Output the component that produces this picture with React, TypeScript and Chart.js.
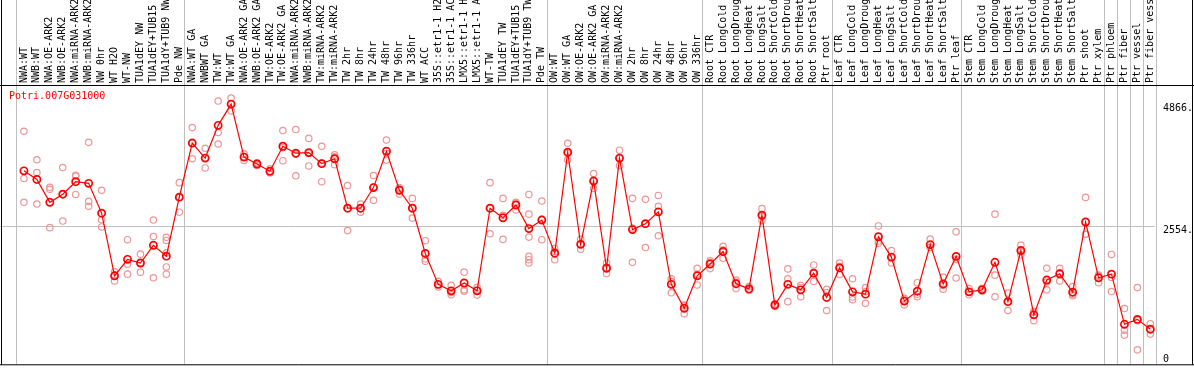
import React, { useEffect, useRef } from "react";
import { Chart, registerables } from "chart.js";

Chart.register(...registerables);

const title = "Potri.007G031000";

const categories: string[] = [
  "NWA:WT", "NWB:WT", "NWA:OE-ARK2", "NWB:OE-ARK2", "NWA:miRNA-ARK2", "NWB:miRNA-ARK2", "NW 0hr", "WT H2O", "WT-NW", "TUA1dEY NW", "TUA1dEY+TUB15 NW", "TUA1dY+TUB9 NW", "Pde NW",
  "NWA:WT GA", "NWBWT GA", "TW:WT", "TW:WT GA", "NWA:OE-ARK2 GA", "NWB:OE-ARK2 GA", "TW:OE-ARK2", "TW:OE-ARK2 GA", "NWA:miRNA-ARK2 GA", "NWB:miRNA-ARK2 GA", "TW:miRNA-ARK2", "TW:miRNA-ARK2 GA",
  "TW 2hr", "TW 8hr", "TW 24hr", "TW 48hr", "TW 96hr", "TW 336hr", "WT ACC", "35S::etr1-1 H2O", "35S::etr1-1 ACC", "LMX5::etr1-1 H2O", "LMX5::etr1-1 ACC", "WT-TW", "TUA1dEY TW", "TUA1dEY+TUB15 TW", "TUA1dY+TUB9 TW", "Pde TW",
  "OW:WT", "OW:WT GA", "OW:OE-ARK2", "OW:OE-ARK2 GA", "OW:miRNA-ARK2", "OW:miRNA-ARK2 GA", "OW 2hr", "OW 8hr", "OW 24hr", "OW 48hr", "OW 96hr", "OW 336hr",
  "Root CTR", "Root LongCold", "Root LongDrought", "Root LongHeat", "Root LongSalt", "Root ShortCold", "Root ShortDrought", "Root ShortHeat", "Root ShortSalt", "Ptr root",
  "Leaf CTR", "Leaf LongCold", "Leaf LongDrought", "Leaf LongHeat", "Leaf LongSalt", "Leaf ShortCold", "Leaf ShortDrought", "Leaf ShortHeat", "Leaf ShortSalt", "Ptr leaf",
  "Stem CTR", "Stem LongCold", "Stem LongDrought", "Stem LongHeat", "Stem LongSalt", "Stem ShortCold", "Stem ShortDrought", "Stem ShortHeat", "Stem ShortSalt", "Ptr shoot",
  "Ptr xylem", "Ptr phloem", "Ptr fiber", "Ptr vessel", "Ptr fiber vessel",
];

const means: number[] = [
  3600, 3437, 3003, 3157, 3394, 3363, 2798, 1609, 1921, 1852, 2188, 1982, 3101,
  4127, 3842, 4463, 4866, 3861, 3730, 3592, 4066, 3935, 3946, 3736, 3829,
  2891, 2891, 3282, 3972, 3232, 2891, 2033, 1447, 1324, 1473, 1324, 2891, 2710, 2952, 2505, 2667,
  2038, 3954, 2206, 3406, 1753, 3842, 2486, 2598, 2822, 1447, 994, 1609,
  1833, 2070, 1460, 1361, 2760, 1056, 1447, 1343, 1660, 1199,
  1759, 1305, 1261, 2350, 1964, 1130, 1317, 2201, 1455, 1977,
  1305, 1343, 1865, 1119, 2089, 869, 1529, 1647, 1298, 2630,
  1572, 1641, 690, 783, 597,
];

const replicates: number[][] = [
  [4351, 3456, 3003], [3810, 3568, 2971], [3288, 3251, 2523], [3661, 2648, 3157], [3517, 3152, 3500],
  [4140, 3021, 2928], [3232, 2673, 2536], [1684, 1511, 1630], [2294, 1828, 1641], [2020, 1679, 1857],
  [2667, 2355, 1572], [2340, 2280, 2044, 1777, 1641], [3376, 2816, 3101],
  [4420, 3829, 4127], [4028, 3655, 3842], [4924, 4327, 4109], [4980, 4737, 4866], [3922, 3797, 3864],
  [3754, 3730, 3700], [3640, 3590, 3560], [4364, 3792, 4042], [4383, 3506, 3916], [4215, 3693, 3930],
  [4066, 3394, 3748], [3903, 3717, 3867],
  [3320, 2467, 2886], [2971, 2816, 2886], [3512, 3040, 3294], [4183, 3804, 3930], [3282, 3157, 3257],
  [3077, 2704, 2892], [2275, 1932, 1884], [1503, 1399, 1440], [1429, 1250, 1293], [1679, 1343, 1317],
  [1391, 1243, 1338], [3376, 2406, 2891], [3077, 2300, 2756], [3003, 2859, 2995],
  [3152, 2779, 2343, 1977, 1915, 1852], [3027, 2294, 2680],
  [2132, 1914, 2070], [4122, 3810, 3930], [2300, 2113, 2205], [3549, 3264, 3405], [1852, 1652, 1755],
  [3991, 3698, 3837], [3077, 1865, 2516], [3059, 2145, 2590], [3133, 2928, 2369], [1553, 1287, 1500],
  [1056, 888, 1040], [1753, 1436, 1640],
  [1895, 1746, 1860], [2169, 1940, 2100], [1529, 1367, 1484], [1404, 1330, 1350], [2883, 2660, 2737],
  [1080, 1056, 1030], [1740, 1553, 1119], [1429, 1212, 1388], [1815, 1503, 1662], [1354, 951, 1292],
  [1852, 1634, 1790], [1553, 1156, 1206], [1386, 1087, 1310], [2555, 2225, 2270], [2089, 1852, 1950],
  [1181, 1056, 1150], [1479, 1212, 1260], [2305, 2150, 2148], [1585, 1354, 1426], [2443, 1567, 1921],
  [1367, 1249, 1300], [1370, 1343, 1316], [2779, 1622, 1212], [1280, 951, 1126], [2194, 2007, 2066],
  [932, 757, 918], [1753, 1343, 1492], [1753, 1511, 1660], [1404, 1231, 1260], [3096, 2398, 2396],
  [1622, 1479, 1615], [2014, 1578, 1311], [988, 578, 485], [1386, 205, 758], [701, 504, 586],
];

// last category index of each group (-1 = start)
const groupEnds: number[] = [-1, 12, 40, 52, 62, 72, 83, 84, 85, 86, 87];
const yTicks: number[] = [0, 2554, 4866];
const yTickLabels: string[] = ["0", "2554.", "4866."];
const gridValues: number[] = [2554];

const FONT = '10px "DejaVu Sans Mono", monospace';

const overlayPlugin = {
  id: "overlay",
  beforeDatasetsDraw(chart: any) {
    const { ctx, chartArea, scales } = chart;
    const xs = scales.x;
    const ys = scales.y;
    ctx.save();
    ctx.lineWidth = 1;
    ctx.strokeStyle = "#c0c0c0";
    gridValues.forEach((v) => {
      const y = Math.round(ys.getPixelForValue(v)) + 0.5;
      ctx.beginPath();
      ctx.moveTo(0, y);
      ctx.lineTo(chartArea.right, y);
      ctx.stroke();
    });
    groupEnds.forEach((g) => {
      const x = Math.round(xs.getPixelForValue(g + 0.4)) + 0.5;
      ctx.beginPath();
      ctx.moveTo(x, 0);
      ctx.lineTo(x, chartArea.bottom);
      ctx.stroke();
    });
    ctx.strokeStyle = "#000000";
    ctx.beginPath();
    ctx.moveTo(0, 85.5);
    ctx.lineTo(chart.width, 85.5);
    ctx.moveTo(1.5, 0);
    ctx.lineTo(1.5, chartArea.bottom + 0.5);
    ctx.moveTo(0, chartArea.bottom + 0.5);
    ctx.lineTo(chart.width, chartArea.bottom + 0.5);
    ctx.moveTo(chart.width - 1.5, 0);
    ctx.lineTo(chart.width - 1.5, chartArea.bottom + 0.5);
    ctx.stroke();
    ctx.restore();
  },
  afterDraw(chart: any) {
    const { ctx, chartArea, scales } = chart;
    const xs = scales.x;
    const ys = scales.y;
    ctx.save();
    ctx.font = FONT;
    ctx.fillStyle = "#000000";
    categories.forEach((c, i) => {
      const x = xs.getPixelForValue(i);
      ctx.save();
      ctx.translate(x, 83);
      ctx.rotate(-Math.PI / 2);
      ctx.textAlign = "left";
      ctx.textBaseline = "middle";
      ctx.fillText(c, 0, 0);
      ctx.restore();
    });
    ctx.textAlign = "left";
    yTicks.forEach((v, k) => {
      const y = ys.getPixelForValue(v);
      if (v === 0) {
        ctx.textBaseline = "alphabetic";
        ctx.fillText(yTickLabels[k], chartArea.right + 8, y + 1);
      } else {
        ctx.textBaseline = "top";
        ctx.fillText(yTickLabels[k], chartArea.right + 8, y - 1);
      }
    });
    ctx.fillStyle = "#ff0000";
    ctx.textBaseline = "middle";
    ctx.fillText(title, 9, 96);
    ctx.restore();
  },
};

export default function App() {
  const ref = useRef<HTMLCanvasElement | null>(null);
  useEffect(() => {
    document.body.style.margin = "0";
    const canvas = ref.current!;
    const repPoints: { x: number; y: number }[] = [];
    replicates.forEach((arr, i) => arr.forEach((v) => repPoints.push({ x: i, y: v })));
    const chart = new Chart(canvas, {
      type: "line",
      data: {
        datasets: [
          {
            type: "line",
            data: means.map((v, i) => ({ x: i, y: v })),
            borderColor: "#ff0000",
            borderWidth: 1.2,
            tension: 0,
            pointRadius: 3.6,
            pointBorderWidth: 1.7,
            pointBorderColor: "#ff0000",
            pointBackgroundColor: "rgba(0,0,0,0)",
          } as any,
          {
            type: "scatter",
            data: repPoints,
            showLine: false,
            pointRadius: 3.2,
            pointBorderWidth: 1.2,
            pointBorderColor: "rgb(236,150,150)",
            pointBackgroundColor: "rgba(0,0,0,0)",
          } as any,
        ],
      },
      options: {
        animation: false,
        responsive: false,
        devicePixelRatio: 1,
        events: [],
        layout: { padding: { left: 1, right: 39, top: 86, bottom: 1 } },
        scales: {
          x: { type: "linear", min: -1.408, max: 87.36, display: false },
          y: { type: "linear", min: -69, max: 5209, display: false },
        },
        plugins: { legend: { display: false }, tooltip: { enabled: false } },
      },
      plugins: [overlayPlugin],
    });
    return () => chart.destroy();
  }, []);
  return <canvas ref={ref} width={1194} height={370} style={{ display: "block" }} />;
}
